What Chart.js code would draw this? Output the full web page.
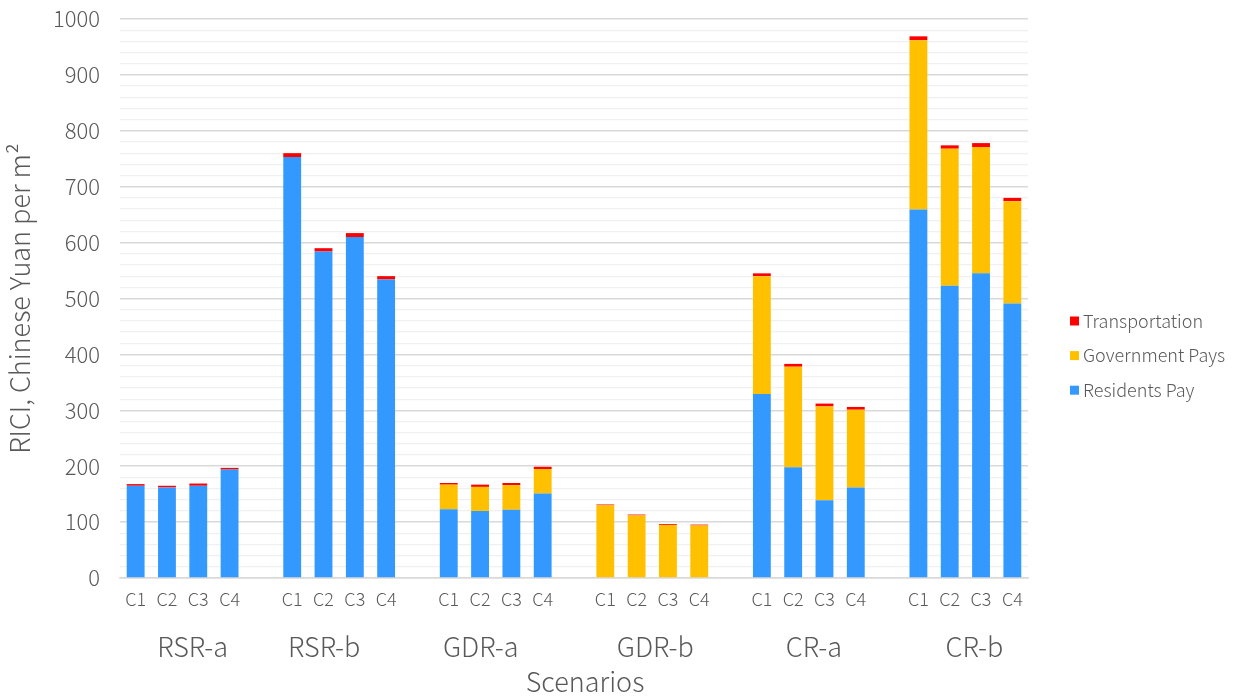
<!DOCTYPE html>
<html>
<head>
<meta charset="utf-8">
<script src="https://cdn.jsdelivr.net/npm/chart.js@4.4.1/dist/chart.umd.min.js"></script>
<style>
  html, body { margin: 0; padding: 0; background: #ffffff; }
  #wrap { width: 1240px; height: 697px; }
</style>
</head>
<body>
<div id="wrap"><canvas id="chart" width="1240" height="697"></canvas></div>
<script>
// Scenario groups and the four cases shown inside each group
const scenarios = ['RSR-a', 'RSR-b', 'GDR-a', 'GDR-b', 'CR-a', 'CR-b'];
const cases = ['C1', 'C2', 'C3', 'C4'];

// RICI components, Chinese Yuan per m2 (4 cases per scenario, in scenario order)
const residentsPay = [
  165, 162, 165, 194,
  753, 584, 610, 534,
  123, 120, 122, 151,
  0, 0, 0, 0,
  329, 198, 139, 162,
  659, 523, 545, 491
];
const governmentPays = [
  0, 0, 0, 0,
  0, 0, 0, 0,
  44, 43, 44, 44,
  130, 112, 95, 94,
  211, 180, 168, 139,
  303, 245, 226, 183
];
const transportation = [
  3, 3, 4, 3,
  7, 6, 7, 6,
  3, 4, 4, 4,
  1.5, 1.5, 1.5, 1.5,
  5, 5, 5, 5,
  7, 6, 7, 6
];

// Value axis
const yMin = 0;
const yMax = 1000;
const yMajorStep = 100;
const yMinorStep = 20;

// Styling
const FONT = '"Noto Sans CJK SC", "Noto Sans", sans-serif';
const WEIGHT = 300;
const TEXT = '#595959';
const COLORS = { residents: '#3399FF', government: '#FFC000', transport: '#FF0000' };
const GROUP_LABEL_SHIFT = [10, -15, -15, 3, 5, 9];

// Lay the cases out as one category row, with an empty slot between scenarios
const slotLabels = [];
const slotGroup = [];
function toSlots(values) {
  const out = [];
  scenarios.forEach((s, g) => {
    cases.forEach((c, i) => out.push(values[g * cases.length + i]));
    if (g < scenarios.length - 1) out.push(null);
  });
  return out;
}
scenarios.forEach((s, g) => {
  cases.forEach(c => { slotLabels.push(c); slotGroup.push(g); });
  if (g < scenarios.length - 1) { slotLabels.push(''); slotGroup.push(-1); }
});

// Scenario names under the case labels, the axis name, and the legend on the right
const annotations = {
  id: 'annotations',
  afterDraw(chart) {
    const { ctx, chartArea, scales: { x } } = chart;
    ctx.save();
    ctx.fillStyle = TEXT;
    ctx.textAlign = 'center';
    ctx.textBaseline = 'middle';
    ctx.font = WEIGHT + ' 27px ' + FONT;
    scenarios.forEach((name, g) => {
      const first = slotGroup.indexOf(g);
      const last = slotGroup.lastIndexOf(g);
      const cx = (x.getPixelForValue(first) + x.getPixelForValue(last)) / 2 + GROUP_LABEL_SHIFT[g];
      ctx.fillText(name, cx, 647);
    });
    ctx.fillText('Scenarios', (chartArea.left + chartArea.right) / 2 + 11, 682);

    // legend, top entry is the top of the stack
    const items = chart.data.datasets.slice().reverse();
    ctx.textAlign = 'left';
    ctx.font = WEIGHT + ' 18px ' + FONT;
    items.forEach((ds, i) => {
      const cy = 321 + i * 34.6;
      ctx.fillStyle = ds.backgroundColor;
      ctx.fillRect(1070, cy - 4.5, 9, 9);
      ctx.fillStyle = TEXT;
      ctx.fillText(ds.label, 1083, cy);
    });
    ctx.restore();
  }
};

new Chart(document.getElementById('chart'), {
  type: 'bar',
  data: {
    labels: slotLabels,
    datasets: [
      { label: 'Residents Pay', data: toSlots(residentsPay), backgroundColor: COLORS.residents },
      { label: 'Government Pays', data: toSlots(governmentPays), backgroundColor: COLORS.government },
      { label: 'Transportation', data: toSlots(transportation), backgroundColor: COLORS.transport }
    ]
  },
  options: {
    responsive: false,
    animation: false,
    layout: { padding: { top: 19, right: 212, bottom: 0, left: 0 } },
    datasets: { bar: { categoryPercentage: 1, barPercentage: 0.57, borderWidth: 0 } },
    plugins: {
      legend: { display: false },
      tooltip: { enabled: false }
    },
    scales: {
      x: {
        stacked: true,
        grid: { display: false, drawTicks: false },
        border: { display: true, color: '#D9D9D9', width: 1.5 },
        ticks: {
          color: TEXT, font: { family: FONT, size: 18, weight: WEIGHT },
          padding: 10, autoSkip: false, maxRotation: 0
        },
        afterFit(scale) {
          scale.height = 119;
          scale.paddingLeft = 0;
          scale.paddingRight = 0;
        }
      },
      y: {
        stacked: true,
        min: yMin,
        max: yMax,
        grid: {
          drawTicks: false,
          color: ctx => (ctx.tick && ctx.tick.value % yMajorStep === 0) ? '#D9D9D9' : '#F0F0F0',
          lineWidth: ctx => (ctx.tick && ctx.tick.value % yMajorStep === 0) ? 1.5 : 1.2
        },
        border: { display: false },
        ticks: {
          stepSize: yMinorStep,
          autoSkip: false,
          color: TEXT,
          font: { family: FONT, size: 22, weight: WEIGHT },
          padding: 20,
          callback: v => (v % yMajorStep === 0 ? String(v) : '')
        },
        title: {
          display: true, text: 'RICI, Chinese Yuan per m\u00B2', color: TEXT,
          font: { family: FONT, size: 27, weight: WEIGHT }, padding: { top: 4, bottom: 0 }
        },
        afterFit(scale) {
          scale.width = 120;
          scale.paddingTop = 0;
          scale.paddingBottom = 0;
        }
      }
    }
  },
  plugins: [annotations]
});
</script>
</body>
</html>
